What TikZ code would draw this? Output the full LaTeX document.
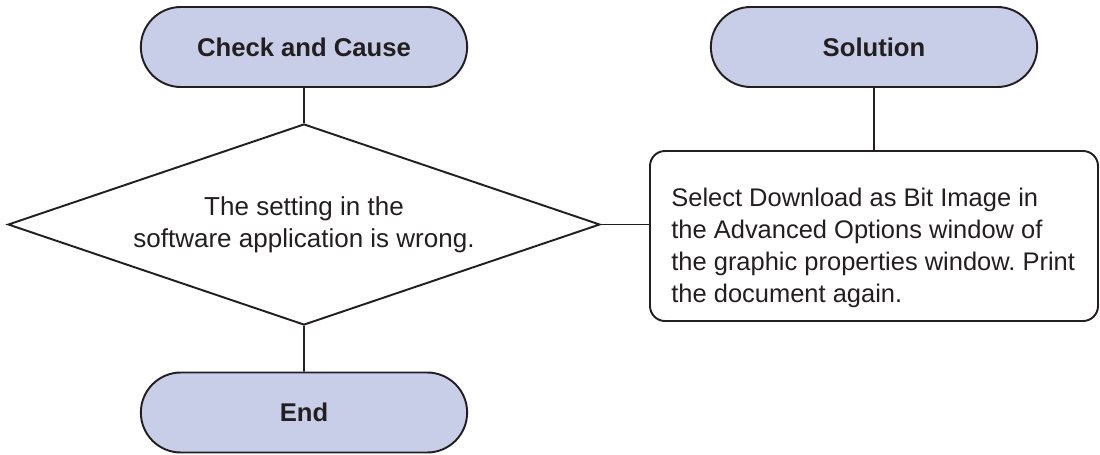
\documentclass[tikz,border=0pt]{standalone}
\usepackage{fontspec}
\setmainfont{Liberation Sans}
\frenchspacing
\usetikzlibrary{shapes.geometric, shapes.misc}

\definecolor{termfill}{RGB}{201,206,232}
\definecolor{inkgray}{RGB}{35,31,32}

\tikzset{
  terminal/.style={rounded rectangle, draw=inkgray, fill=termfill, line width=1.1pt,
    minimum width=6.76cm, minimum height=1.6cm, font=\fontsize{14.6}{18.2}\selectfont\bfseries, text=inkgray},
  decision/.style={diamond, aspect=2.945, draw=inkgray, fill=white, line width=1.1pt, inner sep=0pt,
    minimum width=11.84cm, minimum height=4.02cm, align=center,
    font=\fontsize{14.8}{18.2}\selectfont, text=inkgray},
  remedy/.style={rectangle, rounded corners=0.3cm, draw=inkgray, line width=1.1pt,
    minimum width=8.96cm, minimum height=3.4cm},
  remedytext/.style={align=left, inner sep=0pt,
    font=\fontsize{14.5}{18.2}\selectfont, text=inkgray},
  link/.style={draw=inkgray, line width=1.1pt}
}

\begin{document}
\begin{tikzpicture}

  \useasboundingbox (0, 0) rectangle (22, 9.08);

  % -- Column Heads --
  \node[terminal] (check) at (6.08, 8.14) {Check and Cause};
  \node[terminal] (solution) at (17.48, 8.14) {Solution};

  % -- Problem --
  \node[decision] (problem) at (6.08, 4.59) {The setting in the\\software application is wrong.};

  % -- Fix --
  \node[remedy] (fix) at (17.48, 4.36) {};
  \node[remedytext, anchor=west] (fixtext) at (13.42, 4.13) {Select Download as Bit Image in\\the Advanced Options window of\\the graphic properties window. Print\\the document again.};

  % -- End --
  \node[terminal] (finish) at (6.08, 0.83) {End};

  % -- Connectors --
  \draw[link] (check) -- (problem);
  \draw[link] (problem) -- (finish);
  \draw[link] (problem.east) -- (fix.west |- problem.east);
  \draw[link] (solution) -- (fix);

\end{tikzpicture}
\end{document}
